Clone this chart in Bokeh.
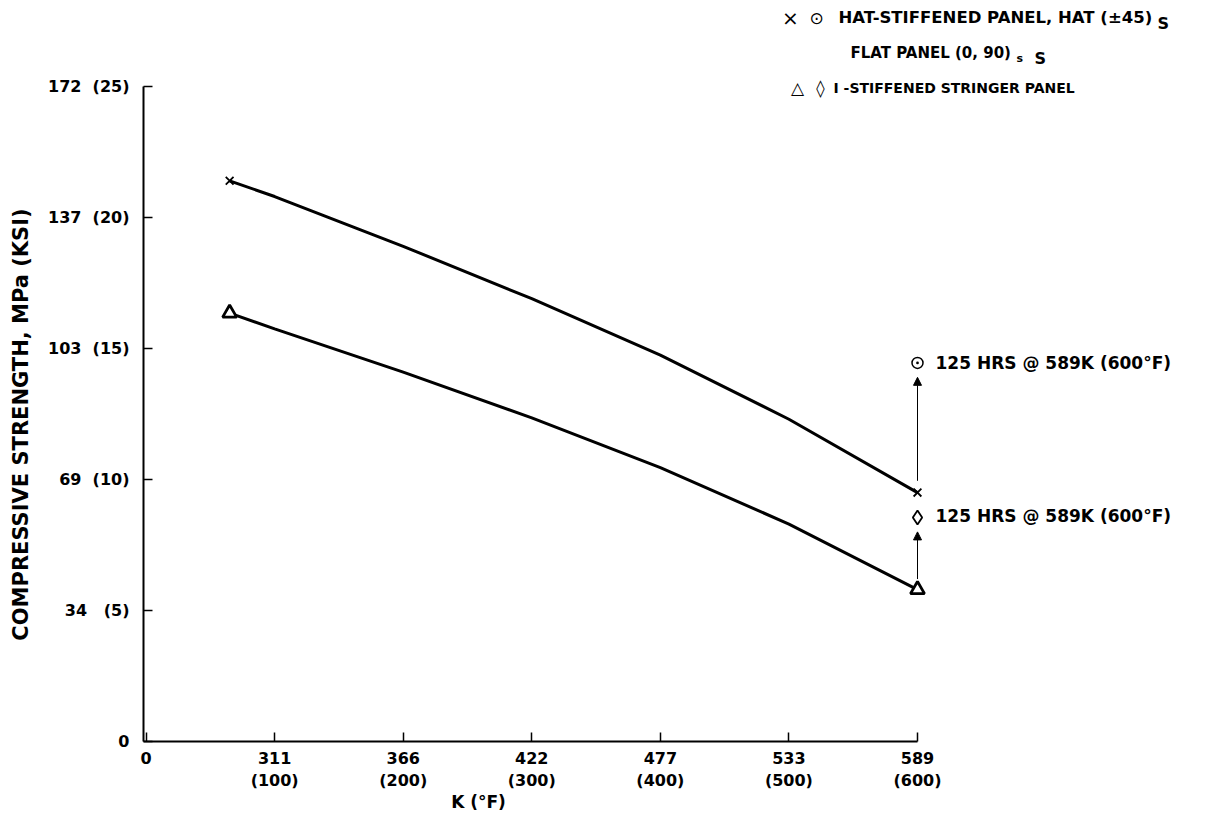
import math
from bokeh.plotting import figure
from bokeh.models import Range1d, FixedTicker, Label, Arrow, NormalHead
from bokeh.embed import file_html
from bokeh.resources import INLINE

# ---------------- data ----------------
temp_F = [65, 100, 200, 300, 400, 500, 600]
hat_ksi = [21.4, 20.8, 18.9, 16.9, 14.75, 12.3, 9.5]          # hat-stiffened panel curve
istiff_ksi = [16.35, 15.75, 14.1, 12.35, 10.45, 8.3, 5.8]     # I-stiffened stringer panel curve
test_F = [65, 600]
hat_test_ksi = [21.4, 9.5]
istiff_test_ksi = [16.35, 5.8]
aged_F = [600]
hat_aged_ksi = [14.45]        # after 125 hrs @ 589K
istiff_aged_ksi = [8.55]      # after 125 hrs @ 589K

x_ticks = [0, 100, 200, 300, 400, 500, 600]
x_tick_K = ["0", "311", "366", "422", "477", "533", "589"]
x_tick_F = ["", "(100)", "(200)", "(300)", "(400)", "(500)", "(600)"]
y_ticks = [0, 5, 10, 15, 20, 25]
y_tick_MPa = ["0", "34", "69", "103", "137", "172"]
y_tick_ksi = ["", "(5)", "(10)", "(15)", "(20)", "(25)"]

# ---------------- layout (page pixels) ----------------
X0, X1 = -2, 600
Y0, Y1 = 0, 25
AX_L, AX_T, AX_W, AX_H = 143, 86, 774, 655
AX_B = AX_T + AX_H
W, H = 1200, 830
FONT = "DejaVu Sans"


def xd(px):
    return X0 + (px - AX_L) * (X1 - X0) / AX_W


def yd(py):
    return Y0 + (AX_B - py) * (Y1 - Y0) / AX_H


p = figure(width=W, height=H,
           x_range=Range1d(xd(0), xd(W)), y_range=Range1d(yd(H), yd(0)),
           output_backend="svg", toolbar_location=None,
           min_border=0, min_border_left=0, min_border_right=0,
           min_border_top=0, min_border_bottom=0)
p.outline_line_color = None
p.xgrid.visible = False
p.ygrid.visible = False
p.background_fill_color = "white"
p.border_fill_color = "white"

# axes, placed at the origin of the data
p.xaxis.fixed_location = Y0
p.yaxis.fixed_location = X0
p.xaxis.bounds = (X0, X1)
p.yaxis.bounds = (Y0, Y1)
for ax in (p.xaxis[0], p.yaxis[0]):
    ax.axis_line_color = "black"
    ax.axis_line_width = 2
    ax.major_tick_in = 9
    ax.major_tick_out = 0
    ax.major_tick_line_color = "black"
    ax.major_tick_line_width = 1.5
    ax.minor_tick_line_color = None
    ax.major_label_text_font = FONT
    ax.major_label_text_font_style = "bold"
    ax.major_label_text_font_size = "16px"
    ax.major_label_text_color = "black"

p.xaxis.ticker = FixedTicker(ticks=x_ticks)
p.xaxis.major_label_overrides = {
    t: (k if not f else k + "\n" + f) for t, k, f in zip(x_ticks, x_tick_K, x_tick_F)
}
p.xaxis.major_label_standoff = 7

p.yaxis.ticker = FixedTicker(ticks=y_ticks)
p.yaxis.major_label_overrides = {
    t: (m if not k else m + "\u00a0" * (3 if len(k) < 4 else 2) + k)
    for t, m, k in zip(y_ticks, y_tick_MPa, y_tick_ksi)
}
p.yaxis.major_label_standoff = 14

# curves
p.line(temp_F, hat_ksi, line_width=3, color="black")
p.line(temp_F, istiff_ksi, line_width=3, color="black")

# markers
p.scatter(test_F, hat_test_ksi, marker="x", size=11, line_width=1.8, color="black")
p.scatter(test_F, istiff_test_ksi, marker="triangle", size=14, fill_color="white",
          line_color="black", line_width=2.8)
p.scatter(aged_F, hat_aged_ksi, marker="circle_dot", size=11, fill_color=None,
          line_color="black", line_width=1.5)
p.scatter(aged_F, istiff_aged_ksi, marker="diamond", size=14, fill_color="white",
          line_color="black", line_width=1.8)

# arrows from tested to aged values
p.add_layout(Arrow(end=NormalHead(size=8, fill_color="black", line_color="black"),
                   x_start=aged_F[0], y_start=hat_test_ksi[1] + 0.45,
                   x_end=aged_F[0], y_end=hat_aged_ksi[0] - 0.55,
                   line_width=1, line_color="black"))
p.add_layout(Arrow(end=NormalHead(size=8, fill_color="black", line_color="black"),
                   x_start=aged_F[0], y_start=istiff_test_ksi[1] + 0.4,
                   x_end=aged_F[0], y_end=istiff_aged_ksi[0] - 0.55,
                   line_width=1, line_color="black"))


def lab(px, py, text, size="16px", bold=True, align="left", baseline="middle", angle=0):
    p.add_layout(Label(x=xd(px), y=yd(py), text=text, text_font=FONT,
                       text_font_style="bold" if bold else "normal",
                       text_font_size=size, text_color="black",
                       text_align=align, text_baseline=baseline, angle=angle))


# axis titles
lab(20, 424, "COMPRESSIVE STRENGTH, MPa (KSI)", size="21px", align="center",
    angle=math.pi / 2)
lab(478, 801, "K (\u00b0F)", size="17px", align="center")

# annotations for aged points
lab(935, 362, "125 HRS @ 589K (600\u00b0F)", size="17px")
lab(935, 515, "125 HRS @ 589K (600\u00b0F)", size="17px")

# legend block (top right)
lab(790, 17, "\u00d7", size="20px", bold=False, align="center")
lab(816, 17, "\u2299", size="17px", bold=False, align="center")
lab(838, 17, "HAT-STIFFENED PANEL, HAT (\u00b145)", size="16.5px")
lab(1157, 23, "S", size="16px")
lab(850, 52, "FLAT PANEL (0, 90)", size="15px")
lab(1016, 58, "s", size="11px")
lab(1034, 58, "S", size="16px")
lab(797, 87, "\u25b3", size="17px", bold=False, align="center")
lab(820, 87, "\u25ca", size="17px", bold=False, align="center")
lab(833, 87, "I -STIFFENED STRINGER PANEL", size="14px")

open("out.html", "w").write(file_html(p, INLINE))
